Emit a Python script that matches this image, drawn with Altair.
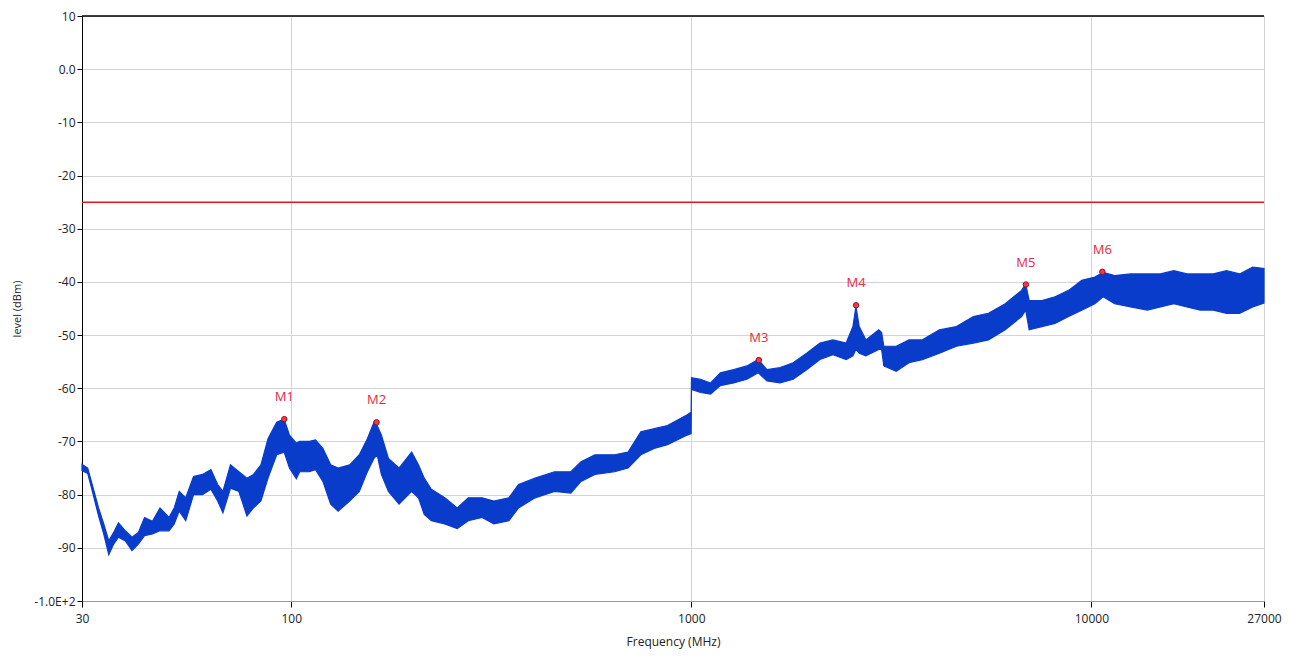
import altair as alt
import pandas as pd

# Spectrum trace envelope (frequency in MHz, lower / upper level in dBm)
freq = [30, 31, 32, 33, 34, 35, 36, 37, 38.5, 40, 41.5, 43, 45, 47, 49.5, 51, 52.5, 54.5, 57, 60,
        63, 65.5, 67.5, 70.5, 74, 77.5, 80.5, 84, 87.5, 92, 96, 99, 103, 105, 111, 115, 120, 125.5,
        131, 140, 148, 155, 161, 164, 168, 175, 186, 200, 208, 215, 224, 242, 260, 277, 300, 321,
        350, 370, 407, 455, 500, 530, 574, 643, 695, 748, 808, 872, 977, 999, 1001, 1054, 1117,
        1182, 1276, 1377, 1470, 1545, 1667, 1797, 1942, 2097, 2260, 2438, 2535, 2579, 2628, 2730,
        2941, 2990, 3028, 3251, 3500, 3780, 4170, 4600, 5070, 5530, 6090, 6690, 6850, 6990, 7520,
        8110, 8770, 9460, 10200, 10700, 11430, 12530, 13800, 14880, 16070, 17330, 18700, 20170,
        21750, 23460, 25300, 27000]
level_lo = [-75.5, -76.0, -80.0, -84.0, -87.4, -91.3, -89.3, -88.0, -88.7, -90.5, -89.3, -87.7,
            -87.4, -86.8, -86.8, -85.5, -83.1, -84.9, -80.0, -80.0, -79.0, -81.2, -83.4, -78.8,
            -79.4, -84.0, -82.5, -81.2, -76.9, -72.5, -72.0, -75.0, -77.0, -75.7, -75.7, -75.3,
            -77.5, -81.8, -83.1, -81.2, -79.4, -75.7, -73.2, -72.5, -76.2, -79.4, -81.8, -79.4,
            -80.6, -83.7, -84.9, -85.5, -86.4, -84.9, -84.3, -85.5, -84.9, -82.5, -80.6, -79.4,
            -79.7, -77.5, -76.2, -75.7, -75.0, -72.5, -71.3, -70.6, -68.8, -68.5, -60.2, -60.8,
            -61.1, -59.5, -59.0, -58.3, -57.1, -58.6, -59.0, -58.3, -56.5, -54.6, -53.7, -54.6,
            -53.9, -52.7, -53.4, -53.9, -52.7, -52.7, -55.8, -56.8, -55.2, -54.6, -53.4, -52.1,
            -51.5, -50.9, -49.0, -46.5, -45.3, -49.0, -48.4, -47.8, -46.5, -45.3, -44.1, -42.8,
            -44.1, -44.7, -45.3, -44.7, -44.1, -44.7, -45.3, -45.3, -45.9, -45.9, -44.7, -44.0]
level_hi = [-74.3, -75.0, -78.8, -82.5, -85.5, -88.7, -87.1, -85.3, -86.8, -88.0, -87.1, -84.3,
            -85.0, -82.5, -84.3, -82.5, -79.4, -80.6, -76.6, -76.2, -75.3, -78.1, -79.4, -74.4,
            -75.7, -76.9, -76.2, -74.4, -69.5, -66.4, -65.8, -68.8, -70.3, -70.0, -70.0, -69.7,
            -71.3, -74.4, -75.0, -74.4, -72.5, -69.5, -66.4, -67.0, -68.8, -73.2, -75.0, -72.0,
            -74.4, -76.9, -79.0, -80.6, -82.5, -80.6, -80.6, -81.2, -80.6, -78.1, -76.9, -75.7,
            -75.7, -73.8, -72.5, -72.5, -72.0, -68.2, -67.6, -67.0, -65.0, -64.5, -58.0, -58.3,
            -59.0, -57.1, -56.5, -55.8, -54.6, -56.5, -56.1, -55.2, -53.4, -51.5, -50.9, -51.5,
            -48.4, -44.6, -48.4, -50.9, -49.0, -49.5, -52.1, -52.1, -50.9, -50.9, -49.0, -48.4,
            -46.5, -45.9, -44.1, -41.6, -40.4, -43.5, -43.5, -42.8, -41.6, -39.7, -39.1, -38.2,
            -38.8, -38.5, -38.5, -38.5, -37.9, -38.5, -38.5, -38.5, -37.9, -38.5, -37.2, -37.5]

# Markers
marker_names = ["M1", "M2", "M3", "M4", "M5", "M6"]
marker_freq = [96.1, 163.4, 1475, 2581, 6858, 10650]
marker_level = [-65.8, -66.4, -54.7, -44.4, -40.5, -38.1]

limit_level = -25
x_ticks = [30, 100, 1000, 10000, 27000]
y_ticks = [10, 0, -10, -20, -30, -40, -50, -60, -70, -80, -90, -100]

trace = pd.DataFrame({"f": freq, "lo": level_lo, "hi": level_hi})
markers = pd.DataFrame({"name": marker_names, "f": marker_freq, "lvl": marker_level})

FONT = "Open Sans"
xscale = alt.Scale(type="log", domain=[30, 27000], nice=False)
yscale = alt.Scale(domain=[-100, 10], nice=False, zero=False)

band = alt.Chart(trace).mark_area(color="#0a3ccc", stroke="#0a3ccc", strokeWidth=1.2, opacity=1).encode(
    x=alt.X("f:Q", scale=xscale, title="Frequency (MHz)",
            axis=alt.Axis(values=x_ticks, grid=True, labelExpr="'' + datum.value",
                          domainColor="#999", tickColor="#000", tickSize=6, labelPadding=6,
                          titlePadding=12, labelFontSize=12, titleFontSize=12,
                          labelColor="#222", titleColor="#222", titleFontWeight="normal",
                          gridColor="#d4d4d4", labelFlush=False)),
    y=alt.Y("lo:Q", scale=yscale, title="level (dBm)",
            axis=alt.Axis(values=y_ticks,
                          labelExpr="datum.value == 0 ? '0.0' : (datum.value == -100 ? '-1.0E+2' : '' + datum.value)",
                          domainColor="#000", tickColor="#000", tickSize=5, labelPadding=2,
                          titlePadding=11, labelFontSize=12, titleFontSize=11,
                          labelColor="#222", titleColor="#222", titleFontWeight="normal",
                          gridColor="#d4d4d4")),
    y2="hi:Q",
)

limit = alt.Chart(pd.DataFrame({"v": [limit_level]})).mark_rule(color="#e01818", strokeWidth=1.5).encode(
    y=alt.Y("v:Q", scale=yscale)
)

top = alt.Chart(pd.DataFrame({"v": [10]})).mark_rule(color="#000", strokeWidth=1.5).encode(
    y=alt.Y("v:Q", scale=yscale)
)

pts = alt.Chart(markers).mark_point(filled=True, size=30, fill="#f03a4a", stroke="#9a1020",
                                    strokeWidth=1, opacity=1).encode(
    x=alt.X("f:Q", scale=xscale), y=alt.Y("lvl:Q", scale=yscale)
)

labels = alt.Chart(markers).mark_text(color="#e8283c", fontSize=13, dy=-22, font=FONT).encode(
    x=alt.X("f:Q", scale=xscale), y=alt.Y("lvl:Q", scale=yscale), text="name:N"
)

chart = alt.layer(band, limit, top, pts, labels).properties(
    width=1182, height=585,
    autosize=alt.AutoSizeParams(type="none"),
    padding={"left": 74, "top": 8, "right": 27, "bottom": 50},
).configure(font=FONT).configure_view(stroke="#999", strokeWidth=1)

chart.save("out.html", embed_options={"renderer": "svg", "actions": False})
